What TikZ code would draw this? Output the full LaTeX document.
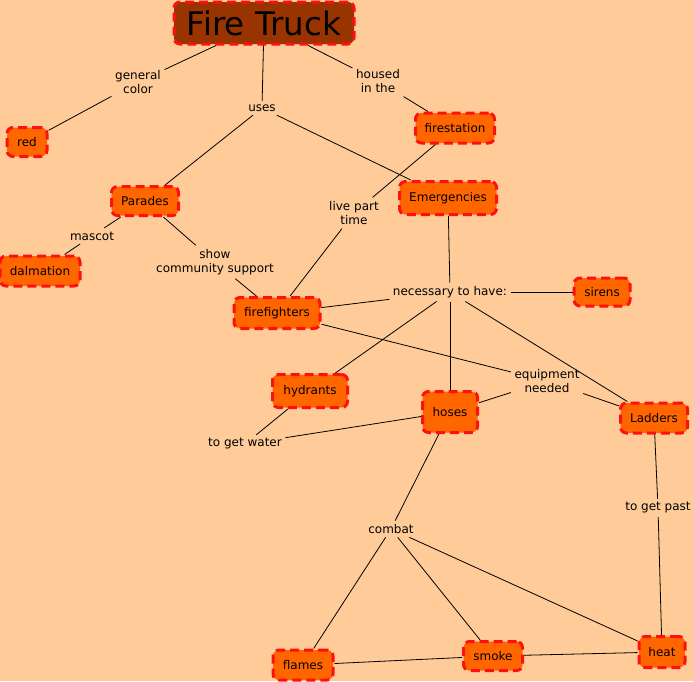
\documentclass[tikz,border=0pt]{standalone}
\usepackage{fontspec}
\setmainfont{DejaVu Sans}
\definecolor{bg}{HTML}{FFCC99}
\definecolor{nodeorange}{HTML}{FF6600}
\definecolor{borderred}{HTML}{FF1010}
\definecolor{truckbrown}{HTML}{993300}
\begin{document}
\begin{tikzpicture}[x=1pt,y=-1pt,
  font=\fontsize{12}{14.5}\selectfont,
  concept/.style={draw=borderred, fill=nodeorange, line width=3pt,
    dash pattern=on 9pt off 5pt, rounded corners=6pt, inner sep=0pt,
    text=black, align=center},
  lbl/.style={align=center, inner sep=3.5pt},
  link/.style={draw=black, line width=0.8pt}]
\fill[bg] (0,0) rectangle (694,681);
\useasboundingbox (0,0) rectangle (694,681);

% concepts
\node[concept, fill=truckbrown, font=\fontsize{32.5}{38}\selectfont,
  minimum width=180pt, minimum height=42pt] (ft) at (264,23) {Fire Truck};
\node[concept, minimum width=40pt, minimum height=29pt] (red) at (27,142) {red};
\node[concept, minimum width=79pt, minimum height=30pt] (fs) at (455,128) {firestation};
\node[concept, minimum width=67pt, minimum height=29pt] (par) at (145,201) {Parades};
\node[concept, minimum width=97pt, minimum height=33pt] (emer) at (448,198) {Emergencies};
\node[concept, minimum width=80pt, minimum height=30pt] (dal) at (40,271) {dalmation};
\node[concept, minimum width=86pt, minimum height=31pt] (ff) at (277,313) {firefighters};
\node[concept, minimum width=56pt, minimum height=28pt] (sir) at (602,292) {sirens};
\node[concept, minimum width=75pt, minimum height=33pt] (hyd) at (310,391) {hydrants};
\node[concept, minimum width=55pt, minimum height=41pt] (hoses) at (450,412) {hoses};
\node[concept, minimum width=67pt, minimum height=30pt] (lad) at (654,418) {Ladders};
\node[concept, minimum width=60pt, minimum height=30pt] (fla) at (303,665) {flames};
\node[concept, minimum width=59pt, minimum height=29pt] (smo) at (493,656) {smoke};
\node[concept, minimum width=46pt, minimum height=31pt] (heat) at (662,652) {heat};

% linking phrases
\node[lbl] (gc) at (138,82) {general\\color};
\node[lbl] (uses) at (262,108) {uses};
\node[lbl] (hous) at (378,81) {housed\\in the};
\node[lbl] (lpt) at (354,213) {live part\\time};
\node[lbl] (masc) at (92,236) {mascot};
\node[lbl] (scs) at (215,262) {show\\community support};
\node[lbl] (nec) at (450,292) {necessary to have:};
\node[lbl] (eq) at (547,381) {equipment\\needed};
\node[lbl] (water) at (245,444) {to get water};
\node[lbl] (past) at (658,508) {to get past};
\node[lbl] (comb) at (391,529) {combat};

% connectors
\draw[link] (ft) -- (gc);
\draw[link] (gc) -- (red);
\draw[link] (ft) -- (uses);
\draw[link] (uses) -- (par);
\draw[link] (uses) -- (emer);
\draw[link] (ft) -- (hous);
\draw[link] (hous) -- (fs);
\draw[link] (fs) -- (lpt);
\draw[link] (lpt) -- (ff);
\draw[link] (par) -- (masc);
\draw[link] (masc) -- (dal);
\draw[link] (par) -- (scs);
\draw[link] (scs) -- (ff);
\draw[link] (emer) -- (nec);
\draw[link] (nec) -- (sir);
\draw[link] (nec) -- (hyd);
\draw[link] (nec) -- (hoses);
\draw[link] (nec) -- (lad);
\draw[link] (ff) -- (nec);
\draw[link] (ff) -- (eq);
\draw[link] (eq) -- (lad);
\draw[link] (eq) -- (hoses);
\draw[link] (hyd) -- (water);
\draw[link] (hoses) -- (water);
\draw[link] (hoses) -- (comb);
\draw[link] (comb) -- (fla);
\draw[link] (comb) -- (smo);
\draw[link] (comb) -- (heat);
\draw[link] (lad) -- (past);
\draw[link] (past) -- (heat);
\draw[link] (fla) -- (smo);
\draw[link] (smo) -- (heat);
\end{tikzpicture}
\end{document}
